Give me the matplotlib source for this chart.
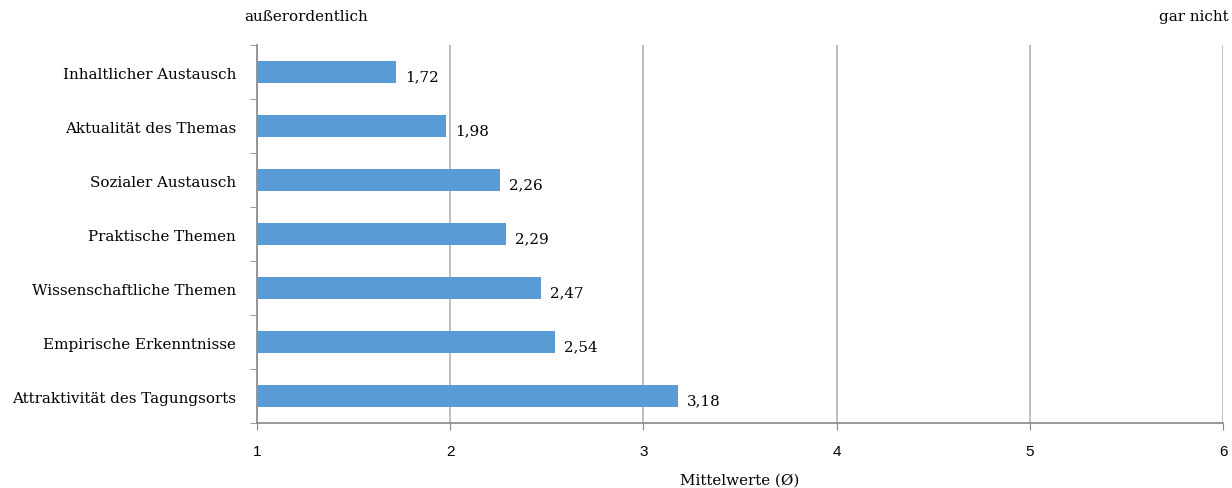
import matplotlib
matplotlib.use("Agg")
import matplotlib.pyplot as plt
from matplotlib.ticker import FixedLocator

categories = [
    "Inhaltlicher Austausch",
    "Aktualität des Themas",
    "Sozialer Austausch",
    "Praktische Themen",
    "Wissenschaftliche Themen",
    "Empirische Erkenntnisse",
    "Attraktivität des Tagungsorts",
]
values = [1.72, 1.98, 2.26, 2.29, 2.47, 2.54, 3.18]
x_ticks = [1, 2, 3, 4, 5, 6]

serif = ["DejaVu Serif"]
sans = ["Liberation Sans", "DejaVu Sans"]
fs = 10.9

fig = plt.figure(figsize=(12.32, 4.89), dpi=100)
ax = fig.add_axes([0.2086, 0.1329, 0.7841, 0.7730])

n = len(categories)
ypos = list(range(n))
ax.barh(ypos, [v - 1 for v in values], left=1, height=0.39,
        color="#5B9BD5", zorder=3)

for y, v in zip(ypos, values):
    ax.annotate(f"{v:.2f}".replace(".", ","), xy=(v, y), xytext=(6.5, -3),
                textcoords="offset points", ha="left", va="center",
                fontsize=fs, family=serif, color="#000000")

ax.set_xlim(1, 6)
ax.set_ylim(n - 0.5, -0.5)
ax.set_xticks(x_ticks)
ax.set_xticklabels([str(t) for t in x_ticks], family=sans, fontsize=11)
ax.set_yticks(ypos)
ax.set_yticklabels(categories, family=serif, fontsize=fs)
ax.tick_params(axis="y", length=0, pad=15)
ax.yaxis.set_minor_locator(FixedLocator([i - 0.5 for i in range(n + 1)]))
ax.tick_params(axis="y", which="minor", length=5, color="#888888", direction="out")
ax.tick_params(axis="x", length=5, color="#888888", direction="out", pad=10)

ax.grid(axis="x", color="#b4b4b4", linewidth=1.2, zorder=0)
for s in ["top", "right"]:
    ax.spines[s].set_visible(False)
for s in ["left", "bottom"]:
    ax.spines[s].set_color("#888888")
    ax.spines[s].set_linewidth(1.2)

ax.set_xlabel("Mittelwerte (Ø)", family=serif, fontsize=fs, labelpad=11)

fig.text(244 / 1232, 1 - 17 / 489, "außerordentlich", family=serif,
         fontsize=fs, ha="left", va="center")
fig.text(1229 / 1232, 1 - 17 / 489, "gar nicht", family=serif,
         fontsize=fs, ha="right", va="center")

fig.savefig("out.png", dpi=100)
